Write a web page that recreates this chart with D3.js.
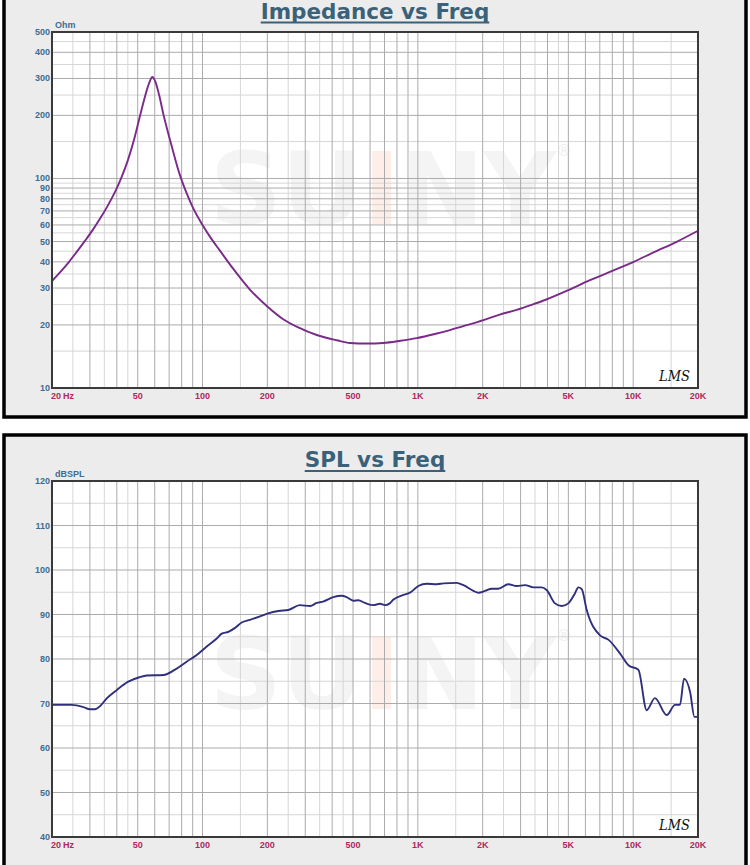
<!DOCTYPE html>
<html>
<head>
<meta charset="utf-8">
<script src="https://cdn.jsdelivr.net/npm/d3@7"></script>
<style>
  body { margin: 0; background: #fff; }
  svg { display: block; }
</style>
</head>
<body>
<div id="chart"></div>
<script>
const width = 750
const height = 865

// x axis (shared by both charts)
const freqTicks = [20, 50, 100, 200, 500, 1000, 2000, 5000, 10000, 20000]
const freqTickLabels = ["20", "50", "100", "200", "500", "1K", "2K", "5K", "10K", "20K"]
const freqGridMajor = [30, 40, 50, 60, 70, 80, 90, 100, 200, 300, 400, 500, 600, 700, 800, 900,
  1000, 2000, 3000, 4000, 5000, 6000, 7000, 8000, 9000, 10000]
const freqGridMinor = [25, 35, 45, 150, 250, 350, 450, 1500, 2500, 3500, 4500, 15000]

// impedance chart
const impTicks = [10, 20, 30, 40, 50, 60, 70, 80, 90, 100, 200, 300, 400, 500]
const impGridMinor = [15, 25, 35, 45, 55, 65, 75, 85, 95, 150, 250, 350, 450]
const impFreq = [20, 22, 24, 26, 28.5, 31, 33.5, 36, 38.5, 40, 42, 45, 48, 51, 54, 56.5, 58.5,
  60.5, 63, 66, 70, 74, 78, 84, 90, 100, 110, 120, 139, 166, 200, 237, 280, 339, 420, 484, 578,
  691, 830, 988, 1200, 1410, 1700, 2015, 2400, 2878, 3400, 3900, 5000, 6300, 8000, 10000,
  12500, 16000, 20000]
const impOhm = [32.4, 36, 40, 44.5, 50.5, 57, 64.5, 73, 83, 90, 101, 122, 152, 195, 245, 285, 305,
  288, 248, 200, 158, 128, 106, 86, 73, 60, 51.5, 45.5, 37, 29.5, 24.5, 21.3, 19.4, 17.9, 16.9,
  16.4, 16.3, 16.4, 16.8, 17.3, 18.1, 18.9, 20.0, 21.1, 22.4, 23.6, 25.0, 26.3, 29.3, 32.7, 36.2,
  39.9, 44.5, 50.0, 56.3]

// SPL chart
const splTicks = [40, 50, 60, 70, 80, 90, 100, 110, 120]
const splGridMinor = [45, 55, 65, 75, 85, 95, 105, 115]
const splFreq = [20, 24.7, 28, 30, 31.7, 33.4, 36, 39.9, 45.2, 50.9, 55.1, 65.8, 74.5, 84.4, 94,
  104.6, 116.4, 122.8, 131.8, 141.6, 152, 166, 185, 200, 225, 250, 283, 316, 339, 363, 405, 443,
  467, 502, 529, 568, 621, 667, 703, 741, 768, 856, 919, 1005, 1099, 1224, 1314, 1516, 1628,
  1812, 1910, 2052, 2204, 2364, 2630, 2877, 3146, 3437, 3759, 3965, 4335, 4656, 4999, 5370,
  5563, 5770, 6084, 7015, 7690, 8697, 9504, 10570, 11555, 12620, 14320, 15640, 16500, 17230,
  18380, 19250, 20000]
const splDb = [69.7, 69.7, 69.2, 68.7, 68.7, 69.4, 71.2, 73.0, 74.9, 75.9, 76.3, 76.4, 77.6, 79.4,
  80.9, 82.8, 84.6, 85.7, 86.1, 87.0, 88.2, 88.8, 89.6, 90.2, 90.8, 91.0, 92.1, 91.9, 92.6, 92.9,
  93.9, 94.2, 93.9, 93.1, 93.2, 92.6, 92.1, 92.4, 92.1, 92.5, 93.3, 94.4, 94.9, 96.4, 96.9, 96.8,
  97.0, 97.1, 96.6, 95.3, 94.9, 95.3, 95.8, 95.8, 96.8, 96.4, 96.6, 96.1, 96.1, 95.5, 92.5, 91.9,
  92.5, 94.8, 96.1, 95.7, 91.0, 85.3, 84.3, 81.2, 78.6, 77.6, 68.5, 71.2, 67.4, 69.7, 69.7, 75.6,
  72.6, 67.0, 67.0]

const titleColor = "#3b6179"
const yLabelColor = "#3f6c92"
const xLabelColor = "#b2275e"
const labelFont = "'Liberation Sans', Arial, sans-serif"

const svg = d3.select("#chart").append("svg")
  .attr("width", width)
  .attr("height", height)

function drawPanel(o) {
  const g = svg.append("g")

  // outer grey box
  g.append("rect")
    .attr("x", 4).attr("y", o.boxTop)
    .attr("width", 742).attr("height", o.boxHeight)
    .attr("fill", "#ececec")
    .attr("stroke", "#000")
    .attr("stroke-width", 3.5)

  const x = d3.scaleLog().domain([20, 20000]).range([o.left, o.right])
  const y = o.y

  g.append("rect")
    .attr("x", o.left).attr("y", o.top)
    .attr("width", o.right - o.left).attr("height", o.bottom - o.top)
    .attr("fill", "#fff")

  // watermark
  const wm = g.append("text")
    .attr("x", 383).attr("y", o.wmY)
    .attr("text-anchor", "middle")
    .style("font", "bold 100px 'DejaVu Sans', sans-serif")
    .attr("fill", "#f4f4f4")
  wm.append("tspan").text("SU")
  wm.append("tspan").attr("fill", "#fdeee9").text("I")
  wm.append("tspan").text("NY")
  g.append("text")
    .attr("x", 556).attr("y", o.wmY - 68)
    .style("font", "16px 'DejaVu Sans', sans-serif")
    .attr("fill", "#efefef")
    .text("®")

  const grid = g.append("g")
  grid.selectAll(".vmin").data(freqGridMinor).join("line")
    .attr("x1", d => x(d)).attr("x2", d => x(d))
    .attr("y1", o.top).attr("y2", o.bottom)
    .attr("stroke", "#d6d6d6").attr("stroke-width", 1)
  grid.selectAll(".hmin").data(o.minor).join("line")
    .attr("x1", o.left).attr("x2", o.right)
    .attr("y1", d => y(d)).attr("y2", d => y(d))
    .attr("stroke", "#d6d6d6").attr("stroke-width", 1)
  grid.selectAll(".vmaj").data(freqGridMajor).join("line")
    .attr("x1", d => x(d)).attr("x2", d => x(d))
    .attr("y1", o.top).attr("y2", o.bottom)
    .attr("stroke", "#ababab").attr("stroke-width", 1)
  grid.selectAll(".hmaj").data(o.ticks).join("line")
    .attr("x1", o.left).attr("x2", o.right)
    .attr("y1", d => y(d)).attr("y2", d => y(d))
    .attr("stroke", "#ababab").attr("stroke-width", 1)

  const line = d3.line()
    .x((d, i) => x(o.fx[i]))
    .y(d => y(d))
    .curve(d3.curveMonotoneX)
  g.append("path")
    .datum(o.fy)
    .attr("d", line)
    .attr("fill", "none")
    .attr("stroke", o.color)
    .attr("stroke-width", 1.9)

  // frame
  g.append("rect")
    .attr("x", o.left).attr("y", o.top)
    .attr("width", o.right - o.left).attr("height", o.bottom - o.top)
    .attr("fill", "none")
    .attr("stroke", "#3a3a3a")
    .attr("stroke-width", 2)

  // y labels
  g.selectAll(".yl").data(o.ticks).join("text")
    .attr("x", o.left - 2).attr("y", d => y(d) + 3)
    .attr("text-anchor", "end")
    .style("font", `bold 9px ${labelFont}`)
    .attr("fill", yLabelColor)
    .text(d => d)
  g.append("text")
    .attr("x", o.left + 3).attr("y", o.top - 4)
    .style("font", `bold 9px ${labelFont}`)
    .attr("fill", yLabelColor)
    .text(o.unit)

  // x labels
  g.selectAll(".xl").data(freqTicks.slice(1)).join("text")
    .attr("x", d => x(d)).attr("y", o.bottom + 11)
    .attr("text-anchor", "middle")
    .style("font", `bold 9px ${labelFont}`)
    .attr("fill", xLabelColor)
    .text((d, i) => freqTickLabels[i + 1])
  g.append("text")
    .attr("x", o.left - 1).attr("y", o.bottom + 11)
    .style("font", `bold 9px ${labelFont}`)
    .attr("fill", xLabelColor)
    .text(freqTickLabels[0])
  g.append("text")
    .attr("x", o.left + 11).attr("y", o.bottom + 11)
    .style("font", `bold 9px ${labelFont}`)
    .attr("fill", xLabelColor)
    .text("Hz")

  // LMS mark
  g.append("text")
    .attr("x", 659).attr("y", o.bottom - 7)
    .attr("textLength", 31)
    .attr("lengthAdjust", "spacingAndGlyphs")
    .style("font", "italic 15px 'DejaVu Serif', serif")
    .attr("fill", "#111")
    .text("LMS")

  // title
  const t = g.append("text")
    .attr("x", 375).attr("y", o.titleY)
    .attr("text-anchor", "middle")
    .style("font", "bold 21.5px 'DejaVu Sans', sans-serif")
    .attr("fill", titleColor)
    .text(o.title)
  const tw = t.node().getComputedTextLength()
  g.append("line")
    .attr("x1", 375 - tw / 2).attr("x2", 375 + tw / 2)
    .attr("y1", o.titleY + 4).attr("y2", o.titleY + 4)
    .attr("stroke", titleColor).attr("stroke-width", 2)
}

drawPanel({
  boxTop: -20, boxHeight: 437,
  left: 52, right: 698, top: 32, bottom: 388,
  y: d3.scaleLog().domain([10, 500]).range([388, 32]),
  ticks: impTicks, minor: impGridMinor,
  fx: impFreq, fy: impOhm,
  color: "#7a2a88",
  unit: "Ohm",
  title: "Impedance vs Freq", titleY: 18.5,
  wmY: 224
})

drawPanel({
  boxTop: 435, boxHeight: 450,
  left: 52, right: 698, top: 481, bottom: 837,
  y: d3.scaleLinear().domain([40, 120]).range([837, 481]),
  ticks: splTicks, minor: splGridMinor,
  fx: splFreq, fy: splDb,
  color: "#2f2f7c",
  unit: "dBSPL",
  title: "SPL vs Freq", titleY: 467,
  wmY: 709
})
</script>
</body>
</html>
